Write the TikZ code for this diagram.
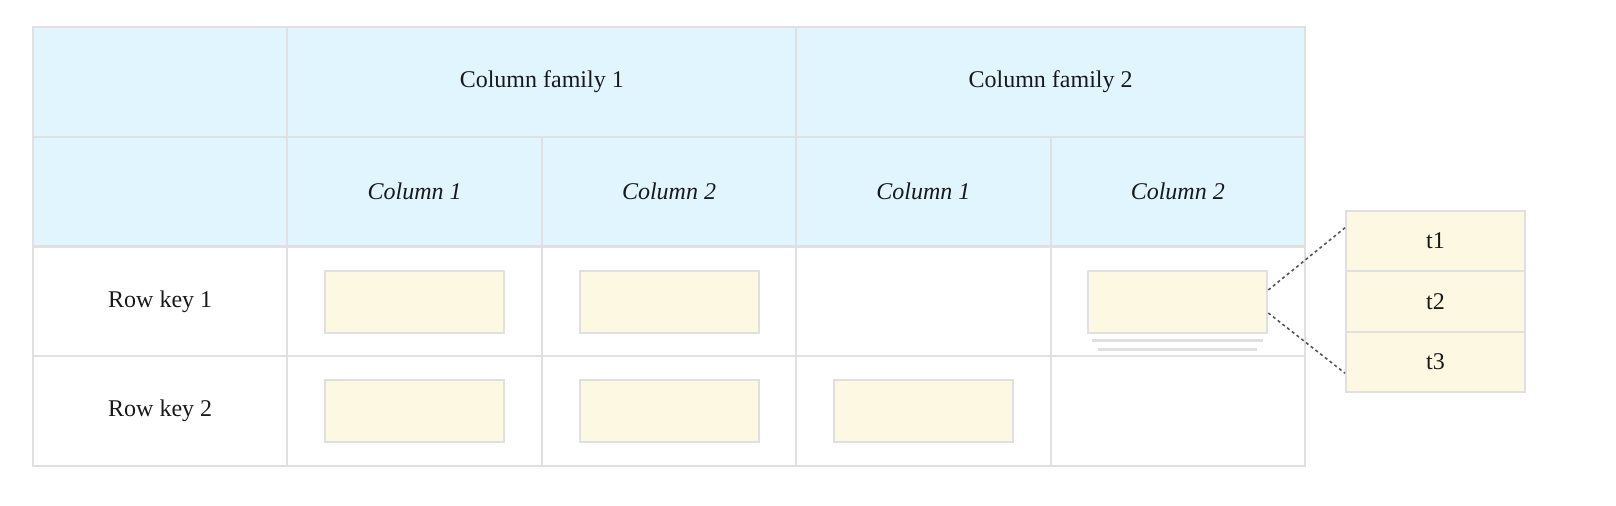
\documentclass[tikz,border=0pt]{standalone}
\usepackage{fontspec}
\setmainfont{Liberation Serif}
\usetikzlibrary{calc}
\definecolor{hdr}{HTML}{E1F5FE}
\definecolor{grid}{HTML}{E0E0E0}
\definecolor{cellbox}{HTML}{FCF8E2}
\definecolor{dotc}{HTML}{555555}
\begin{document}
\begin{tikzpicture}[x=0.5pt,y=-0.5pt,
  every node/.style={font=\fontsize{12}{14}\selectfont, text=black!90},
  cell/.style={draw=grid,line width=1pt,minimum width=127.2pt,minimum height=54.875pt,inner sep=0pt},
  hcell/.style={cell,fill=hdr},
  famcell/.style={hcell,minimum width=254.4pt},
  vbox/.style={draw=grid,line width=1pt,fill=cellbox,minimum width=89.5pt,minimum height=31pt,inner sep=0pt},
  tbox/.style={vbox,minimum height=30.25pt},
  link/.style={draw=dotc,line width=0.8pt,dash pattern=on 1.5pt off 1.5pt},
  ver/.style={draw=grid,line width=1.5pt}]
\useasboundingbox (0,0) rectangle (1616,506);
% header row 1
\node[hcell] (h0) at (160.2,81.9) {};
\node[famcell] (cf1) at (541.8,81.9) {Column family 1};
\node[famcell] (cf2) at (1050.6,81.9) {Column family 2};
% header row 2
\node[hcell] (s0) at (160.2,191.6) {};
\node[hcell] (s1) at (414.6,191.6) {\textit{Column 1}};
\node[hcell] (s2) at (669,191.6) {\textit{Column 2}};
\node[hcell] (s3) at (923.4,191.6) {\textit{Column 1}};
\node[hcell] (s4) at (1177.8,191.6) {\textit{Column 2}};
% row 1
\node[cell] (r1) at (160.2,301.4) {Row key 1};
\node[cell] (a1) at (414.6,301.4) {};
\node[cell] (a2) at (669,301.4) {};
\node[cell] (a3) at (923.4,301.4) {};
\node[cell] (a4) at (1177.8,301.4) {};
% row 2
\node[cell] (r2) at (160.2,411.1) {Row key 2};
\node[cell] (b1) at (414.6,411.1) {};
\node[cell] (b2) at (669,411.1) {};
\node[cell] (b3) at (923.4,411.1) {};
\node[cell] (b4) at (1177.8,411.1) {};
% value boxes
\node[vbox] (v11) at (414.6,302) {};
\node[vbox] (v12) at (669,302) {};
\node[vbox] (v14) at (1177.8,302) {};
\node[vbox] (v21) at (414.6,411) {};
\node[vbox] (v22) at (669,411) {};
\node[vbox] (v23) at (923.4,411) {};
% older versions underneath
\draw[ver] ($(v14.south west)+(5,7)$) -- ($(v14.south east)+(-5,7)$);
\draw[ver] ($(v14.south west)+(11,16)$) -- ($(v14.south east)+(-11,16)$);
% timestamps
\node[tbox] (t1) at (1435.5,241) {t1};
\node[tbox] (t2) at (1435.5,301.5) {t2};
\node[tbox] (t3) at (1435.5,362) {t3};
% links
\draw[link] ($(v14.east)+(0,-12)$) -- ($(t1.north west)+(0,18)$);
\draw[link] ($(v14.east)+(0,11)$) -- ($(t3.south west)+(0,-20)$);
\end{tikzpicture}
\end{document}
